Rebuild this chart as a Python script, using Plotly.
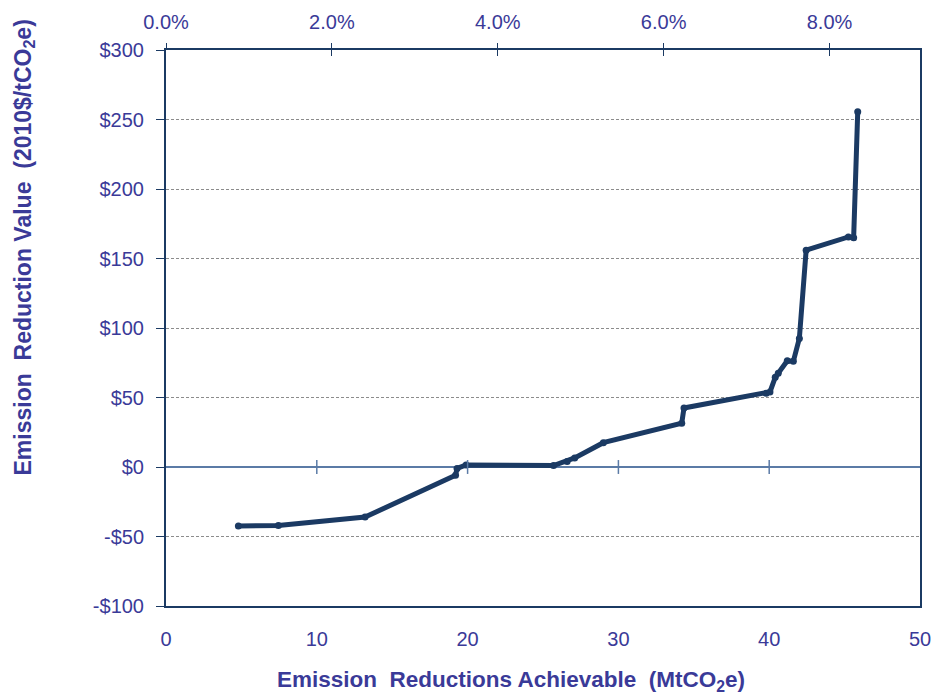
import plotly.graph_objects as go

# Data
reductions_mt = [4.8, 7.45, 13.2, 19.2, 19.3, 19.9, 25.7, 26.6, 27.1, 29.0, 34.2, 34.35,
                 39.8, 40.05, 40.4, 40.6, 41.2, 41.6, 42.0, 42.45, 45.25, 45.6, 45.87]
value_usd = [-42.5, -42, -36, -6, -1, 1.5, 1, 4, 6.5, 17.5, 31.5, 42.5,
             53, 54, 64.5, 67.5, 76.5, 76, 92.5, 156, 165.5, 165, 255.5]
total_emissions_mt = 550.0  # base for the % axis on top
x_ticks = [0, 10, 20, 30, 40, 50]
y_ticks = [-100, -50, 0, 50, 100, 150, 200, 250, 300]
y_tick_labels = ["-$100", "-$50", "$0", "$50", "$100", "$150", "$200", "$250", "$300"]
pct_ticks = [0, 0.02, 0.04, 0.06, 0.08]

NAVY = "#1b3a63"
TEXT = "#3a3a98"
FONT = "Liberation Sans, Arial, sans-serif"

x_max = 50
pct_max = x_max / total_emissions_mt

fig = go.Figure()
fig.add_trace(go.Scatter(
    x=reductions_mt, y=value_usd, mode="lines+markers",
    line=dict(color=NAVY, width=5), marker=dict(color=NAVY, size=7),
    hoverinfo="x+y", showlegend=False))
# helper traces so the top percentage axes are drawn
pct_vals = [v / total_emissions_mt for v in reductions_mt]
fig.add_trace(go.Scatter(x=pct_vals, y=value_usd, xaxis="x2", mode="lines",
                         line=dict(width=0), opacity=0, hoverinfo="skip", showlegend=False))
fig.add_trace(go.Scatter(x=pct_vals, y=value_usd, xaxis="x3", mode="lines",
                         line=dict(width=0), opacity=0, hoverinfo="skip", showlegend=False))

tickfont = dict(family=FONT, size=20, color=TEXT)

fig.update_layout(
    width=937, height=695,
    margin=dict(l=166, r=17, t=50, b=89, autoexpand=False),
    paper_bgcolor="white", plot_bgcolor="white",
    xaxis=dict(range=[0, x_max], tickvals=x_ticks, ticks="", showgrid=False,
               zeroline=False, showline=True, mirror=True, linecolor=NAVY, linewidth=2,
               tickfont=tickfont, ticklabelstandoff=14, automargin=False),
    xaxis2=dict(range=[0, pct_max], overlaying="x", side="top", tickvals=pct_ticks,
                tickformat=".1%", ticks="outside", ticklen=6, tickcolor=NAVY, tickwidth=1,
                showgrid=False, zeroline=False, showline=False, tickfont=tickfont,
                ticklabelstandoff=6, automargin=False),
    xaxis3=dict(range=[0, pct_max], overlaying="x", side="top", tickvals=pct_ticks,
                ticks="inside", ticklen=6, tickcolor=NAVY, tickwidth=1,
                showticklabels=False, showgrid=False, zeroline=False, showline=False,
                automargin=False),
    yaxis=dict(range=[-100, 300], tickvals=y_ticks, ticktext=y_tick_labels,
               ticks="outside", ticklen=8, tickcolor=NAVY, tickwidth=1,
               showgrid=True, gridcolor="#8c8c8c", griddash="3px,2px", gridwidth=1,
               zeroline=True, zerolinecolor="#5b7ba6", zerolinewidth=1.5,
               showline=True, mirror=True, linecolor=NAVY, linewidth=2,
               tickfont=tickfont, ticklabelstandoff=8, automargin=False),
)

# tick marks crossing the zero line
for xv in x_ticks[1:-1]:
    fig.add_shape(type="line", xref="x", yref="y", x0=xv, x1=xv, y0=-5, y1=5,
                  line=dict(color="#5b7ba6", width=1.5))

fig.add_annotation(xref="paper", yref="paper", x=(511 - 166) / 754, y=(606 - 681) / 556,
                   text="Emission  Reductions Achievable  (MtCO<sub>2</sub>e)",
                   showarrow=False, xanchor="center", yanchor="middle",
                   font=dict(family=FONT, size=22.5, color=TEXT, weight="bold"))
fig.add_annotation(xref="paper", yref="paper", x=(23.5 - 166) / 754, y=(606 - 248) / 556,
                   text="Emission  Reduction Value  (2010$/tCO<sub>2</sub>e)",
                   textangle=-90, showarrow=False, xanchor="center", yanchor="middle",
                   font=dict(family=FONT, size=23, color=TEXT, weight="bold"))

fig.write_html("out.html", config={"displayModeBar": False},
               post_script="document.body.style.margin='0';")
